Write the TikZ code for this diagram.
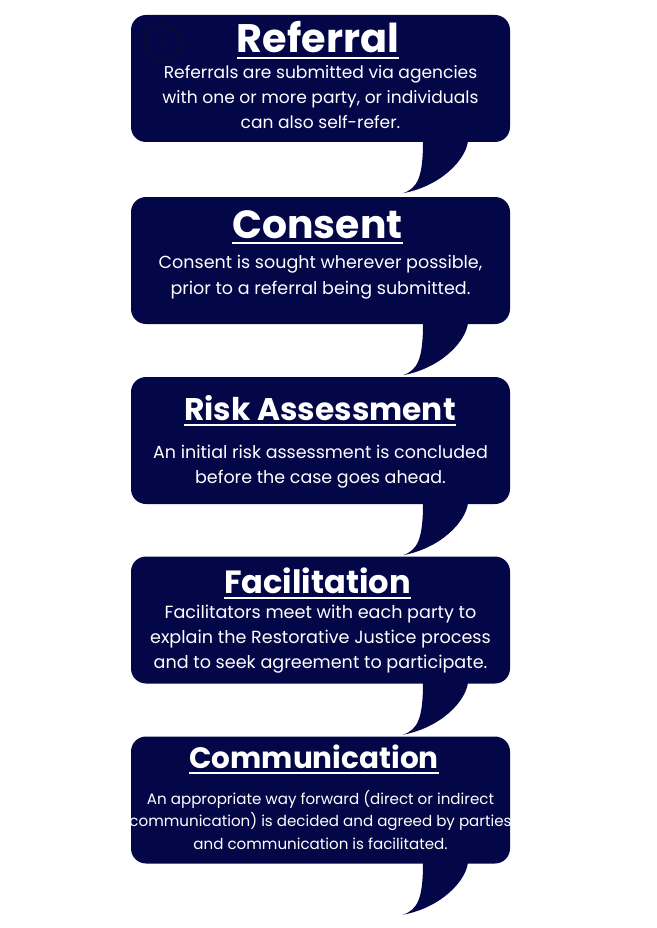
\documentclass[tikz,border=0pt]{standalone}
\usepackage{fontspec}
\setmainfont{Poppins}
\usetikzlibrary{calc}
\definecolor{RjNavy}{RGB}{3,7,72}
\definecolor{RjInk}{RGB}{15,15,22}
\tikzset{
  rj/bubble/.style={
    fill=RjNavy,
    rounded corners=15pt,
    minimum width=379pt,
    minimum height=127pt,
    inner sep=0pt
  },
  rj/title/.style={
    text=white,
    anchor=base,
    inner sep=0pt,
    font=\bfseries\fontsize{#1}{#1}\selectfont
  },
  rj/body/.style 2 args={
    text=white,
    align=center,
    inner sep=0pt,
    font=\fontsize{#1}{#2}\selectfont
  },
  rj/uline/.style={draw=white, line width=2.6pt},
  rj/tail/.style={fill=RjNavy},
  rj/num/.style={circle, draw=RjInk, line width=0.8pt, minimum size=36pt, inner sep=0pt, text=RjInk, font=\fontsize{11}{11}\selectfont}
}

\begin{document}
\begin{tikzpicture}[x=1pt,y=-1pt]
  \useasboundingbox (0,0) rectangle (656,928);

  % speech bubbles
  \node[rj/bubble] (ref) at (320.5,78.5) {};
  \node[rj/bubble] (con) at (320.5,260.5) {};
  \node[rj/bubble] (risk) at (320.5,440.5) {};
  \node[rj/bubble] (fac) at (320.5,620) {};
  \node[rj/bubble] (com) at (320.5,800) {};

  % tails
  \foreach \n in {ref,con,risk,fac,com}{
    \fill[rj/tail] ($(\n.south)+(102.5,-1)$)
      .. controls ($(\n.south)+(102.5,35)$) and ($(\n.south)+(97,46)$) .. ($(\n.south)+(82.5,51)$)
      .. controls ($(\n.south)+(120,44)$) and ($(\n.south)+(145,18)$) .. ($(\n.south)+(147.5,-1)$)
      -- cycle;
  }

  \node[rj/num] (num) at (162,43) {1};

  % titles
  \node[rj/title=39.8] (ref-t) at (318,53) {Referral};
  \node[rj/title=39.3] (con-t) at (317.5,238) {Consent};
  \node[rj/title=31.3] (risk-t) at (320,420) {Risk Assessment};
  \node[rj/title=32.1] (fac-t) at (317.5,593) {Facilitation};
  \node[rj/title=29.5] (com-t) at (314,768) {Communication};

  \foreach \t in {ref-t,con-t,risk-t,fac-t,com-t}{
    \draw[rj/uline] ($(\t.base west)+(0,5)$) -- ($(\t.base east)+(0,5)$);
  }

  % texts
  \node[rj/body={17.1}{25}] (ref-b) at (320.5,96.8)
    {Referrals are submitted via agencies\\with one or more party, or individuals\\can also self-refer.};
  \node[rj/body={17.5}{26}] (con-b) at (320.5,276.8)
    {Consent is sought wherever possible,\\prior to a referral being submitted.};
  \node[rj/body={17.5}{25}] (risk-b) at (320.5,466.3)
    {An initial risk assessment is concluded\\before the case goes ahead.};
  \node[rj/body={17.6}{25}] (fac-b) at (320.5,638.8)
    {Facilitators meet with each party to\\explain the Restorative Justice process\\and to seek agreement to participate.};
  \node[rj/body={15.1}{22.5}] (com-b) at (320.5,819.8)
    {An appropriate way forward (direct or indirect\\communication) is decided and agreed by parties\\and communication is facilitated.};
\end{tikzpicture}
\end{document}
